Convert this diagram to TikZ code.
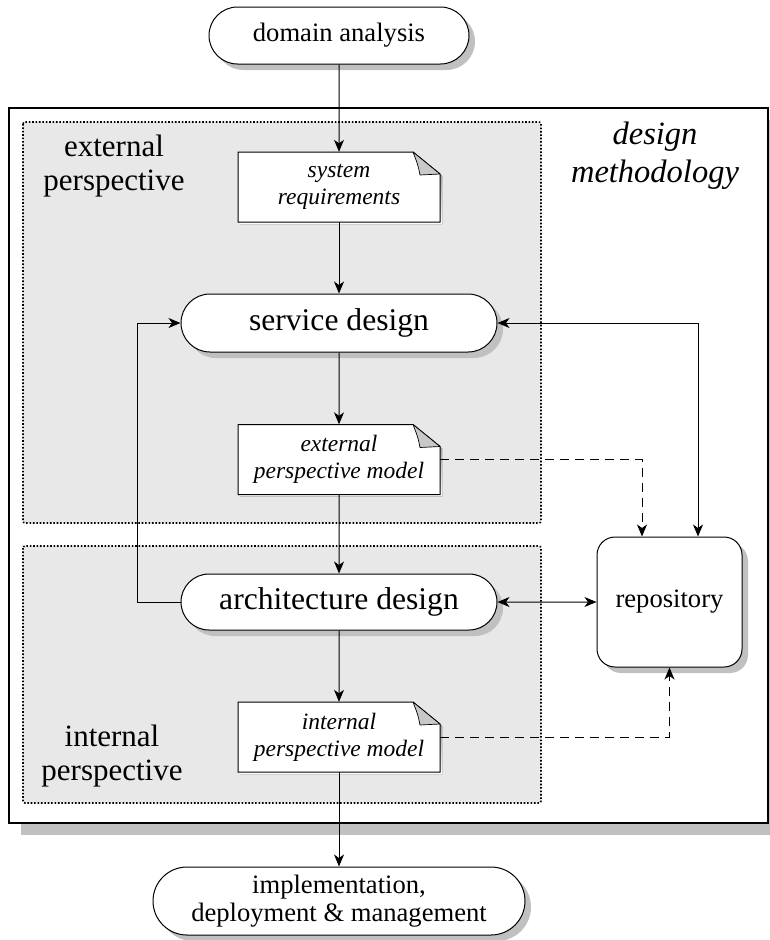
\documentclass[tikz,border=0pt]{standalone}
\usepackage{fontspec}
\setmainfont{Liberation Serif}
\usetikzlibrary{arrows.meta,shadows,shapes.misc}

\definecolor{shade}{RGB}{192,192,192}
\definecolor{panel}{RGB}{232,232,232}
\definecolor{foldgray}{RGB}{200,200,200}

\tikzset{
    shadowed/.style={drop shadow={shadow xshift=6pt, shadow yshift=-6pt, fill=shade, opacity=1}},
    pill/.style={rounded rectangle, draw, fill=white, line width=1pt, shadowed, inner sep=0pt, align=center},
    doctext/.style={align=center, inner sep=0pt, minimum width=202pt, minimum height=70pt,
        font=\fontsize{23.5}{27}\selectfont\itshape},
    region/.style={draw, dash pattern=on 1.6pt off 1.8pt, fill=panel, line width=1.6pt, rounded corners=2pt},
    flow/.style={-{Stealth[length=12pt,width=10pt,inset=3.5pt]}, line width=1pt},
    twoway/.style={{Stealth[length=12pt,width=10pt,inset=3.5pt]}-{Stealth[length=12pt,width=10pt,inset=3.5pt]}, line width=1pt},
    dashflow/.style={flow, dash pattern=on 9pt off 6pt}
}

% sheet of paper with a folded corner, centred at #1
\newcommand{\paper}[1]{%
    \begin{scope}[shift={#1}]
        \fill[shade] (-99,-33) -- (76,-33) -- (103,-11) -- (103,37) -- (-99,37) -- cycle;
        \filldraw[fill=white, line width=1pt] (-101,-35) -- (74,-35) -- (101,-13) -- (101,35) -- (-101,35) -- cycle;
        \filldraw[fill=foldgray, line width=0.7pt, line join=round] (74,-35) -- (101,-13) -- (81,-12) .. controls (79,-22) .. cycle;
    \end{scope}}

\begin{document}
\begin{tikzpicture}[x=1pt,y=-1pt]

    \useasboundingbox (0,0) rectangle (770,940);

    % Outer box and the two perspectives
    \draw[line width=2.2pt, fill=white, drop shadow={shadow xshift=12pt, shadow yshift=-12pt, fill=shade, opacity=1}]
        (9,108) rectangle (768,823);
    \draw[region] (23,122) rectangle (541,523); % external
    \draw[region] (23,546) rectangle (541,803); % internal

    % Labels of the boxes
    \node[align=center, font=\fontsize{31}{34}\selectfont] (extlabel) at (114,166) {external\\perspective};
    \node[align=center, font=\fontsize{31}{34}\selectfont] (intlabel) at (112,756) {internal\\perspective};
    \node[align=center, font=\fontsize{32.5}{38}\selectfont\itshape] (method) at (655,156) {design\\methodology};

    % Documents
    \paper{(339,187)}
    \paper{(339,459.5)}
    \paper{(339,737)}
    \node[doctext] (sys) at (339,187) {system\\requirements};
    \node[doctext] (ext) at (339,459.5) {external\\perspective model};
    \node[doctext] (int) at (339,737) {internal\\perspective model};

    % Activities
    \node[pill, minimum width=260pt, minimum height=57pt, font=\fontsize{26.6}{30}\selectfont] (domain) at (339,35.5) {domain analysis};
    \node[pill, minimum width=316pt, minimum height=58pt, font=\fontsize{31.6}{35}\selectfont] (srv) at (339,323) {service design};
    \node[pill, minimum width=316pt, minimum height=56pt, font=\fontsize{31.6}{35}\selectfont] (arch) at (339,602) {architecture design};
    \node[pill, minimum width=372pt, minimum height=68pt, font=\fontsize{26.6}{28}\selectfont] (impl) at (339,901) {implementation,\\deployment \& management};
    \node[draw, fill=white, line width=1pt, rounded corners=18pt, shadowed, minimum width=145pt, minimum height=130pt,
        font=\fontsize{26.6}{30}\selectfont] (repo) at (669.5,602) {repository};

    % Main flow
    \coordinate (loop) at (137,0);
    \draw[flow] (domain) -- (sys);
    \draw[flow] (sys) -- (srv);
    \draw[flow] (srv) -- (ext);
    \draw[flow] (ext) -- (arch);
    \draw[flow] (arch) -- (int);
    \draw[flow] (int) -- (impl);
    \draw[flow] (arch.west) -- (arch.west -| loop) |- (srv.west);

    % Links to the repository
    \draw[twoway] (srv.east) -| ([xshift=28.5pt]repo.north);
    \draw[dashflow] (ext.east) -| ([xshift=-27.5pt]repo.north);
    \draw[twoway] (arch) -- (repo);
    \draw[dashflow] (int.east) -| (repo.south);

\end{tikzpicture}
\end{document}
